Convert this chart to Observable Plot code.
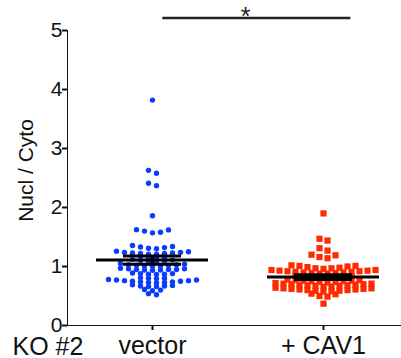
<!DOCTYPE html>
<html>
<head>
<meta charset="utf-8">
<script src="https://cdn.jsdelivr.net/npm/d3@7"></script>
<script src="https://cdn.jsdelivr.net/npm/@observablehq/plot@0.6"></script>
<style>
  body { margin: 0; background: white; }
  #chart svg [aria-label^="y-axis"] path,
  #chart svg [aria-label^="y-axis"] line,
  #chart svg [aria-label^="x-axis"] path,
  #chart svg [aria-label^="x-axis"] line { stroke-width: 2px; stroke: #111; }
  #chart svg [aria-label^="x-axis"] text { font-size: 25px; }
  #chart svg [aria-label^="y-axis"] text { font-size: 21px; }
</style>
</head>
<body>
<div id="chart"></div>
<script>
// ---- data ----
const groups = ["vector", "+ CAV1"];
const groupLabel = "KO #2";
const yLabel = "Nucl / Cyto";
const yTicks = [0, 1, 2, 3, 4, 5];

const vectorValues = [
  0.52, 0.54,
  0.59, 0.60, 0.61,
  0.66, 0.66, 0.67, 0.67, 0.68, 0.69,
  0.725, 0.73, 0.73, 0.74, 0.74, 0.75, 0.75, 0.76, 0.76, 0.77, 0.77, 0.78,
  0.795, 0.80, 0.80, 0.81,
  0.865, 0.87, 0.87, 0.88, 0.88, 0.89,
  0.935, 0.94, 0.94, 0.95, 0.95, 0.95, 0.96, 0.96, 0.97,
  1.005, 1.01, 1.01, 1.02, 1.02, 1.03, 1.03, 1.04, 1.05,
  1.075, 1.08, 1.09, 1.10, 1.11, 1.12,
  1.145, 1.15, 1.16, 1.17,
  1.21, 1.21, 1.22, 1.22, 1.23, 1.23, 1.24, 1.24, 1.25, 1.26,
  1.30, 1.31, 1.32, 1.33, 1.34, 1.355,
  1.57, 1.58, 1.60, 1.62, 1.625,
  1.86,
  2.37, 2.41,
  2.58, 2.63,
  3.82
];

const cav1Values = [
  0.37,
  0.49, 0.50, 0.53, 0.54,
  0.575, 0.58, 0.59, 0.59, 0.60, 0.60, 0.61, 0.61, 0.62, 0.62, 0.63, 0.63, 0.64,
  0.655, 0.66, 0.67, 0.67, 0.68, 0.68, 0.69, 0.69, 0.70, 0.70, 0.71, 0.71, 0.72,
  0.73, 0.74, 0.74, 0.75, 0.75, 0.76, 0.76, 0.77, 0.77, 0.78,
  0.805, 0.81, 0.82, 0.82, 0.83, 0.83, 0.84, 0.85,
  0.88, 0.88, 0.89, 0.89, 0.90, 0.90, 0.91, 0.91, 0.92, 0.92, 0.93, 0.93, 0.94, 0.94,
  0.96, 0.97, 0.97, 0.98, 0.99, 1.00, 1.01, 1.01, 1.02,
  1.14, 1.16, 1.19, 1.20,
  1.27, 1.31,
  1.44, 1.47,
  1.90
];

const means = [1.11, 0.82];
const sems = [0.07, 0.04];
const sigLabel = "*";

// ---- layout ----
const W = 401, H = 358;
const mL = 67, mR = 0, mT = 30, mB = 33;
// x positions: group 1 at px 152, group 2 at px 323
const pxPerUnit = (323 - 152);
const x0 = 1 - (152 - mL) / pxPerUnit;
const x1 = 2 + (W - mR - 323) / pxPerUnit;
const step = 8 / pxPerUnit;
const yPx = (H - mT - mB) / 5; // pixels per y unit

// Prism-like column scatter: rows of close values, spread from the centre outward
function swarm(values, h, gi) {
  const sorted = values.slice().sort((a, b) => a - b);
  const rows = [];
  let cur = null;
  for (const v of sorted) {
    if (!cur || v >= cur.start + h - 1e-9) { cur = {start: v, items: []}; rows.push(cur); }
    cur.items.push(v);
  }
  const out = [];
  for (const r of rows) {
    const n = r.items.length;
    r.items.forEach((v, i) => {
      let slot;
      if (n % 2 === 1) {
        if (i === 0) slot = 0;
        else { const k = Math.ceil(i / 2); slot = (i % 2 === 1) ? k : -k; }
      } else {
        const k = Math.floor(i / 2) + 0.5; slot = (i % 2 === 0) ? k : -k;
      }
      out.push({x: gi + 1 + slot * step, y: v});
    });
  }
  return out;
}

const vecPts = swarm(vectorValues, 0.06, 0);
const cavPts = swarm(cav1Values, 0.07, 1);
const summary = groups.map((g, i) => ({x: i + 1, mean: means[i], sem: sems[i]}));
const meanHalf = 56 / pxPerUnit;
const capHalf = 29 / pxPerUnit;

// y title placement (outside the frame, left of the axis)
const yTitleX = x0 - (mL - 26) / pxPerUnit;
const yTitleY = (H - mB - 170) / yPx;

const plot = Plot.plot({
  width: W, height: H,
  marginLeft: mL, marginRight: mR, marginTop: mT, marginBottom: mB,
  style: {fontFamily: "'Liberation Sans', Arial, Helvetica, sans-serif", fontSize: "20px", color: "#111", background: "white", overflow: "visible"},
  x: {domain: [x0, x1], ticks: [1, 2], tickFormat: d => groups[Math.round(d) - 1], tickSize: 5, tickPadding: 6, line: true, label: null},
  y: {domain: [0, 5], ticks: yTicks, tickFormat: d3.format("d"), tickSize: 5, tickPadding: 0, line: true, label: null},
  marks: [
    Plot.dot(vecPts, {x: "x", y: "y", r: 2.7, fill: "#0a3cff", stroke: null}),
    Plot.dot(cavPts, {x: "x", y: "y", r: 3.5, symbol: "square", fill: "#ff2a00", stroke: null}),
    Plot.ruleY(summary, {y: "mean", x1: d => d.x - meanHalf, x2: d => d.x + meanHalf, stroke: "#000", strokeWidth: 3}),
    Plot.ruleY(summary, {y: d => d.mean + d.sem, x1: d => d.x - capHalf, x2: d => d.x + capHalf, stroke: "#000", strokeWidth: 3}),
    Plot.ruleY(summary, {y: d => d.mean - d.sem, x1: d => d.x - capHalf, x2: d => d.x + capHalf, stroke: "#000", strokeWidth: 3}),
    Plot.ruleX(summary, {x: "x", y1: d => d.mean - d.sem, y2: d => d.mean + d.sem, stroke: "#000", strokeWidth: 3}),
    // significance bracket
    Plot.ruleY([5.21], {x1: 1.06, x2: 2.16, stroke: "#222", strokeWidth: 2.5}),
    Plot.text([sigLabel], {x: 1.544, y: 5.235, text: d => d, fontSize: 26, fill: "#222"}),
    // axis titles
    Plot.text([yLabel], {x: yTitleX, y: yTitleY, rotate: -90, text: d => d, fontSize: 21, fill: "#111"}),
    Plot.text([groupLabel], {frameAnchor: "bottom-left", dx: -55, dy: 29, textAnchor: "start", lineAnchor: "bottom", text: d => d, fontSize: 25, fill: "#111"})
  ]
});
document.getElementById("chart").appendChild(plot);
</script>
</body>
</html>
